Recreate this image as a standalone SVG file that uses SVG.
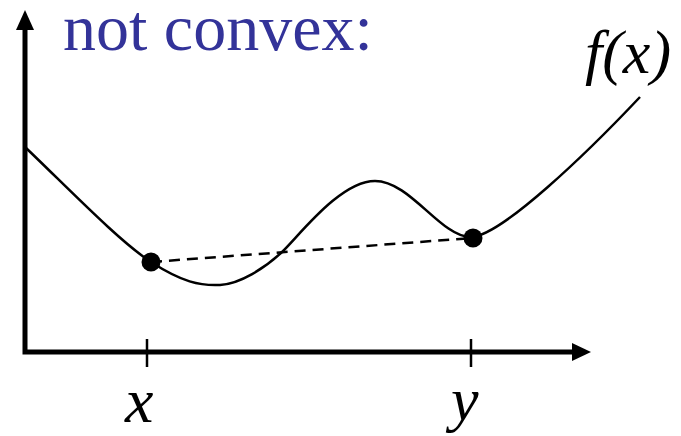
<svg xmlns="http://www.w3.org/2000/svg" width="681" height="436" viewBox="0 0 681 436">
<style>
.axis{stroke:#000;stroke-width:5;fill:none}
.tick{stroke:#000;stroke-width:2.5}
.curve{stroke:#000;stroke-width:2.5;fill:none}
.dash{stroke:#000;stroke-width:2.5;stroke-dasharray:11 7;fill:none}
.lbl{font-family:"Liberation Serif",serif;font-style:italic;fill:#000}
.title{font-family:"Liberation Serif",serif;fill:#333399}
</style>
<g id="title"><text class="title" x="63" y="50" font-size="66">not convex:</text></g>
<g id="axes">
<polyline class="axis" points="25,20 25,352 575,352"/>
<path d="M16,30 L25,10 L34,30 z" fill="#000"/>
<path d="M572,343 L591,352 L572,361 z" fill="#000"/>
<line class="tick" x1="147" y1="339" x2="147" y2="367"/>
<line class="tick" x1="471" y1="339" x2="471" y2="367"/>
</g>
<g id="labels">
<text class="lbl" x="125" y="422" font-size="64">x</text>
<text class="lbl" x="451" y="420" font-size="62">y</text>
<text class="lbl" x="585" y="73" font-size="62">f(x)</text>
</g>
<g id="connectors">
<path class="curve" d="M25,147 C70,190 120,242 151,262 C182,282 200,286 220,285 C240,284 265,268 282,252 C299,236 340,181 375,181 C410,181 440,236 470,237 C500,238 590,150 640,97"/>
<line class="dash" x1="151" y1="262" x2="473" y2="238"/>
</g>
<g id="pointX"><circle cx="151" cy="262" r="9.5" fill="#000"/></g>
<g id="pointY"><circle cx="473" cy="238" r="9.5" fill="#000"/></g>
</svg>
